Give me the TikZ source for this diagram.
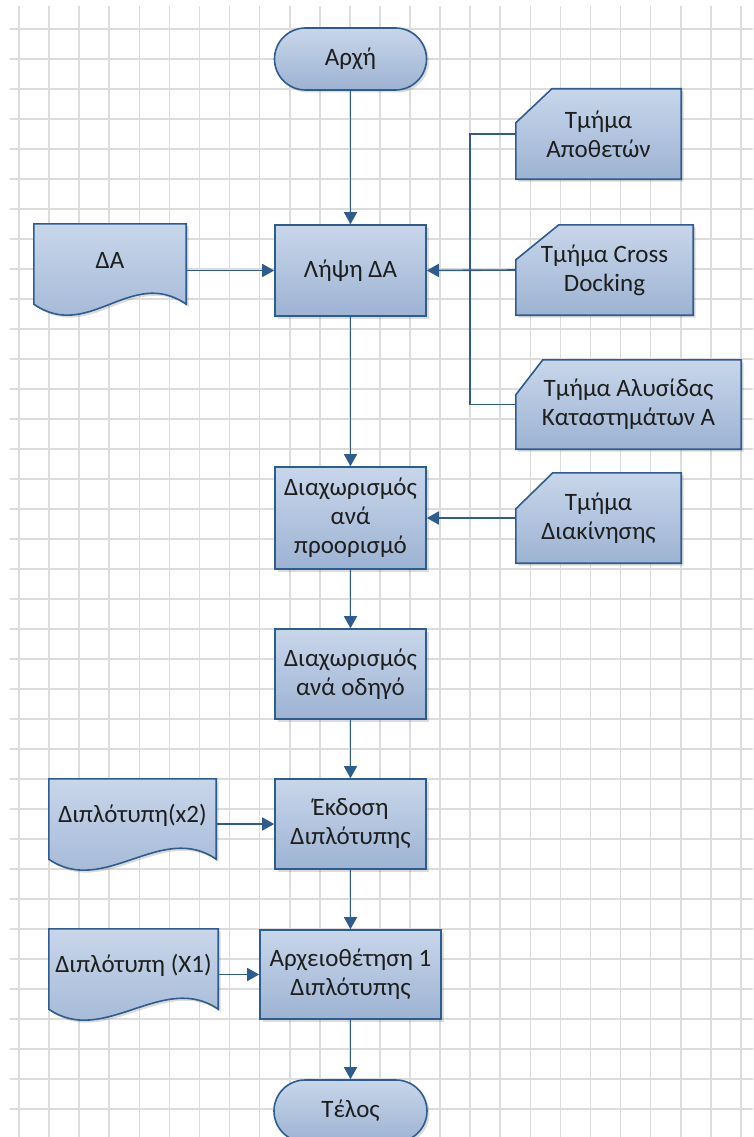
\documentclass[tikz,border=0pt]{standalone}
\usepackage{fontspec}
\setmainfont{Carlito}
\usetikzlibrary{arrows.meta,shadows}
\definecolor{gridc}{HTML}{DCDCDC}
\definecolor{edge}{HTML}{2F5C8F}
\definecolor{filltop}{HTML}{C8D6EA}
\definecolor{fillbot}{HTML}{9DB3D3}
\definecolor{txt}{HTML}{1E1E1E}
\pgfdeclarelayer{grid}
\pgfdeclarelayer{shapes}
\pgfsetlayers{grid,shapes,main}

\begin{document}
\begin{tikzpicture}[x=1pt,y=-1pt,
  shapebase/.style={draw=edge, line width=1.6pt, top color=filltop, bottom color=fillbot,
    drop shadow={shadow xshift=2.5pt, shadow yshift=-2.5pt, opacity=0.28}},
  lbl/.style={font=\fontsize{25}{29}\selectfont, text=txt, align=center, inner sep=0pt},
  process/.style={shapebase, lbl, rectangle},
  terminal/.style={process, rounded corners=31pt},
  holder/.style={lbl, rectangle},
  conn/.style={draw=edge, line width=1.6pt},
  arr/.style={conn, -{Triangle[width=13pt,length=12pt]}}
]
\path[use as bounding box, clip] (0,0) rectangle (753,1137);

% background grid
\begin{pgfonlayer}{grid}
  \foreach \k in {0,...,24} \draw[gridc, line width=1.6pt] (19+30.08*\k, 6) -- (19+30.08*\k, 1137);
  \foreach \k in {0,...,36} \draw[gridc, line width=1.6pt] (10, 29+30*\k) -- (753, 29+30*\k);
\end{pgfonlayer}

% main column
\node[terminal, minimum width=152pt, minimum height=62pt] (start) at (350.5,59) {Αρχή};
\node[process, minimum width=151pt, minimum height=91pt] (lipsi) at (350.5,270.5) {Λήψη ΔΑ};
\node[process, minimum width=151pt, minimum height=102pt] (dest) at (350.5,518) {Διαχωρισμός\\ανά\\προορισμό};
\node[process, minimum width=151pt, minimum height=90pt] (driver) at (350.5,674) {Διαχωρισμός\\ανά οδηγό};
\node[process, minimum width=151pt, minimum height=90pt] (issue) at (350.5,824) {Έκδοση\\Διπλότυπης};
\node[process, minimum width=181pt, minimum height=89pt] (archive) at (350.5,974.5) {Αρχειοθέτηση 1\\Διπλότυπης};
\node[terminal, minimum width=153pt, minimum height=62pt] (finish) at (350.5,1111) {Τέλος};

% documents (text holders; outlines drawn below)
\node[holder, minimum width=152pt, minimum height=72pt] (da) at (110,260) {ΔΑ};
\node[holder, minimum width=167pt, minimum height=72pt] (dup2) at (132.5,815) {Διπλότυπη(x2)};
\node[holder, minimum width=169pt, minimum height=72pt] (dup1) at (133.5,965) {Διπλότυπη (X1)};

% department cards (text holders; outlines drawn below)
\node[holder, minimum width=165pt, minimum height=90pt] (depot) at (598.5,134) {Τμήμα\\Αποθετών};
\node[holder, minimum width=177pt, minimum height=90pt] (cross) at (604.5,270) {Τμήμα Cross\\Docking};
\node[holder, minimum width=225pt, minimum height=89pt] (chain) at (628.5,404.5) {Τμήμα Αλυσίδας\\Καταστημάτων Α};
\node[holder, minimum width=165pt, minimum height=90pt] (move) at (598.5,518) {Τμήμα\\Διακίνησης};

\begin{pgfonlayer}{shapes}
  % document outlines with a wavy lower edge
  \foreach \n in {da,dup2,dup1}
    \path[shapebase] (\n.north west) -- (\n.north east) -- ([yshift=-8pt]\n.south east)
      .. controls +(-55,-38) and +(55,38) .. ([yshift=-8pt]\n.south west) -- cycle;
  % card outlines with a cut top-left corner
  \foreach \n/\cx/\cy in {depot/36/34, cross/43/35, chain/27/35, move/37/36}
    \path[shapebase] ([yshift=-\cy pt]\n.north west) -- ([xshift=\cx pt]\n.north west)
      -- (\n.north east) -- (\n.south east) -- (\n.south west) -- cycle;
\end{pgfonlayer}

% flow
\draw[arr] (start) -- (lipsi);
\draw[arr] (lipsi) -- (dest);
\draw[arr] (dest) -- (driver);
\draw[arr] (driver) -- (issue);
\draw[arr] (issue) -- (archive);
\draw[arr] (archive) -- (finish);

\draw[arr] (da.east |- lipsi.west) -- (lipsi.west);
\draw[arr] (dup2.east |- issue.west) -- (issue.west);
\draw[arr] (dup1.east |- archive.west) -- (archive.west);

\coordinate (bus) at (470,270);
\draw[arr] (cross.west) -- (lipsi.east);
\draw[conn] (depot.west) -| (bus) |- (chain.west);
\draw[arr] (move.west) -- (dest.east);
\end{tikzpicture}
\end{document}
